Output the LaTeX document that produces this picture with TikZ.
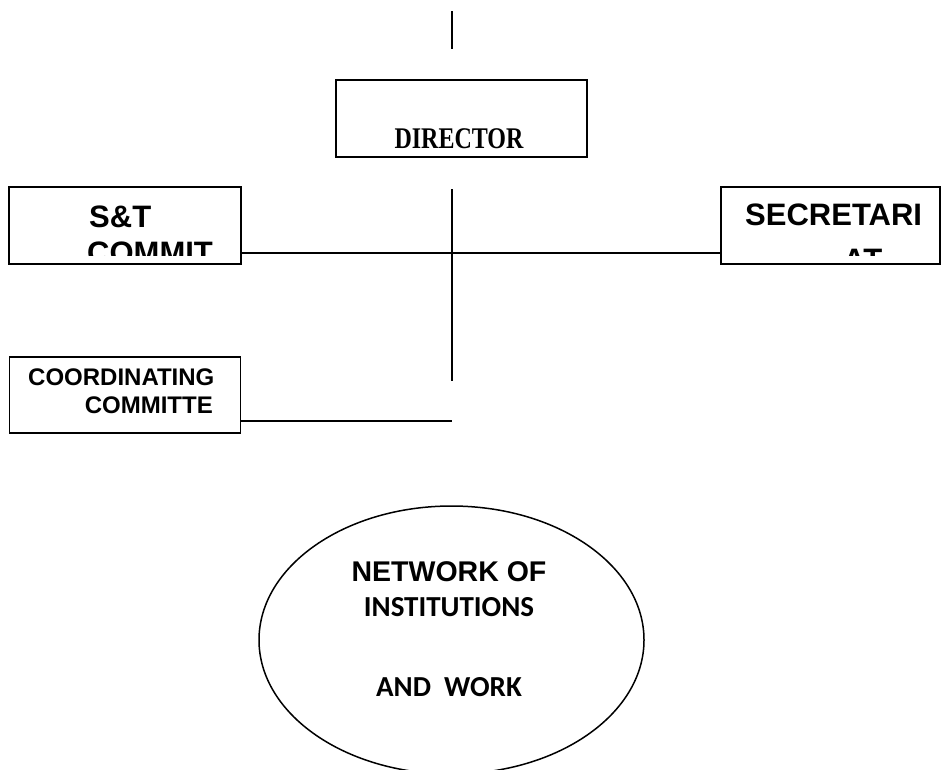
\documentclass[tikz,border=0pt]{standalone}
\usepackage{fontspec}
\usepackage{tikz}
\usetikzlibrary{positioning,calc,shapes.geometric}
\usepackage{xcolor}
\newfontfamily\arialfont{Liberation Sans}
\newfontfamily\calibrifont{Carlito}
\newfontfamily\cambriafont{Liberation Serif}
\definecolor{orgline}{HTML}{000000}
\tikzset{
  orgbox/.style={
    draw=orgline,
    line width=1.9pt,
    fill=white,
    inner sep=0pt
  },
  orglink/.style={
    draw=orgline,
    line width=1.9pt
  },
  bigsans/.style={
    inner sep=0pt,
    font=\arialfont\bfseries\fontsize{31pt}{35pt}\selectfont
  },
  smallsans/.style={
    inner sep=0pt,
    font=\arialfont\bfseries\fontsize{24pt}{28pt}\selectfont
  },
  rounded/.style={
    inner sep=0pt,
    font=\calibrifont\bfseries\fontsize{29pt}{33pt}\selectfont
  }
}
\begin{document}
\begin{tikzpicture}[x=1pt,y=-1pt]
\clip (0,0) rectangle (941,769);
\fill[white] (0,0) rectangle (941,769);

% boxes
\node[orgbox, minimum width=251pt, minimum height=77pt] (director) at (461.5,118.5) {};
\node[orgbox, minimum width=232pt, minimum height=77pt] (stc) at (125,225.5) {};
\node[orgbox, minimum width=219pt, minimum height=77pt] (secr) at (830.5,225.5) {};
\node[orgbox, minimum width=231pt, minimum height=76pt] (coord) at (125,395) {};
\node[orgbox, line width=1.5pt, ellipse, minimum width=385pt, minimum height=268pt] (network) at (451.5,640) {};

% free ends of the lines
\coordinate (topin) at (452,11);
\coordinate (topout) at (452,49);
\coordinate (spinetop) at (452,189);
\coordinate (spinebot) at (452,381);
\coordinate (hub) at (452,253);
\coordinate (coordend) at (452,421);

\draw[orglink] (topin) -- (topout);
\draw[orglink] (spinetop) -- (spinebot);
\draw[orglink] (stc.east |- hub) -- (secr.west |- hub);
\draw[orglink] (coord.east |- coordend) -- (coordend);

% texts
\node[inner sep=0pt, anchor=base, font=\cambriafont\bfseries\fontsize{30pt}{34pt}\selectfont]
  (dirtext) at (459,148) {\scalebox{0.8}[1]{DIRECTOR}};

\begin{scope}
\clip (stc.north west) rectangle ($(stc.south east)+(0,-9)$);
\node[bigsans, anchor=base west] (sttexta) at (89,227) {S\&T};
\node[bigsans, anchor=base west] (sttextb) at (87,263) {COMMIT};
\end{scope}

\begin{scope}
\clip (secr.north west) rectangle ($(secr.south east)+(0,-9)$);
\node[bigsans, anchor=base west] (secrtexta) at (745,225) {SECRETARI};
\node[bigsans, anchor=base west] (secrtextb) at (843,270) {AT};
\end{scope}

\node[smallsans, anchor=base west] (coordtexta) at (28,385) {COORDINATING};
\node[smallsans, anchor=base east] (coordtextb) at (213,413) {COMMITTE};

\node[bigsans, font=\arialfont\bfseries\fontsize{28.5pt}{32pt}\selectfont, anchor=base]
  (nettexta) at (449,581) {NETWORK OF};
\node[rounded, anchor=base] (nettextb) at (449,616) {INSTITUTIONS};
\node[rounded, anchor=base] (nettextc) at (449,696) {AND\ \ WORK};
\end{tikzpicture}
\end{document}
